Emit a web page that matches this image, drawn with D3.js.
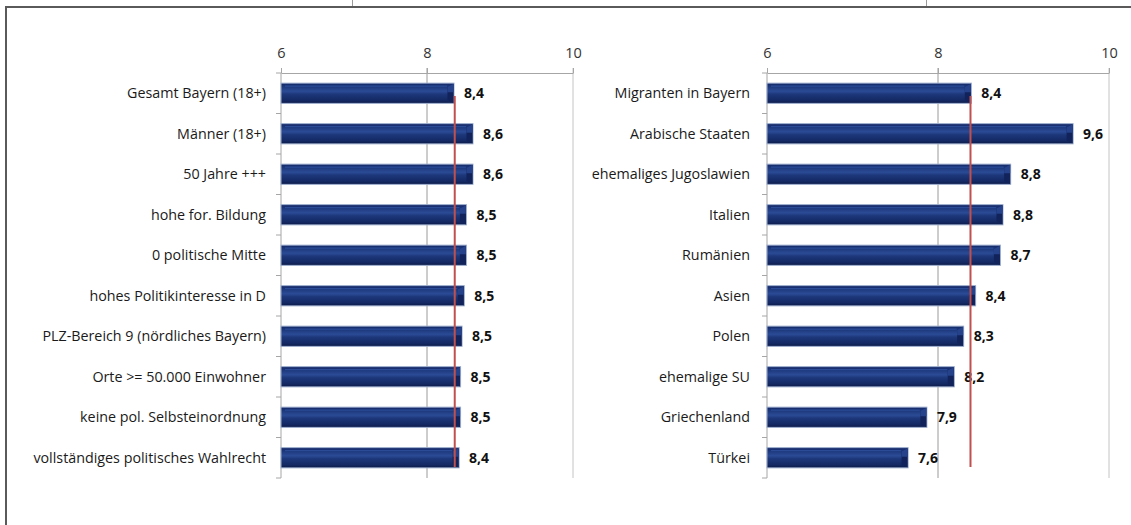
<!DOCTYPE html>
<html>
<head>
<meta charset="utf-8">
<script src="https://cdn.jsdelivr.net/npm/d3@7"></script>
<style>
  body { margin: 0; background: #fff; }
  svg { display: block; font-family: "Open Sans", sans-serif; }
</style>
</head>
<body>
<div id="chart"></div>
<script>
// left panel
let leftCategories = ["Gesamt Bayern (18+)", "Männer (18+)", "50 Jahre +++", "hohe for. Bildung",
    "0 politische Mitte", "hohes Politikinteresse in D", "PLZ-Bereich 9 (nördliches Bayern)",
    "Orte >= 50.000 Einwohner", "keine pol. Selbsteinordnung", "vollständiges politisches Wahlrecht"]
let leftValues = [8.37, 8.63, 8.63, 8.54, 8.54, 8.51, 8.48, 8.46, 8.46, 8.44]
let leftLabels = ["8,4", "8,6", "8,6", "8,5", "8,5", "8,5", "8,5", "8,5", "8,5", "8,4"]

// right panel
let rightCategories = ["Migranten in Bayern", "Arabische Staaten", "ehemaliges Jugoslawien", "Italien",
    "Rumänien", "Asien", "Polen", "ehemalige SU", "Griechenland", "Türkei"]
let rightValues = [8.39, 9.58, 8.85, 8.76, 8.73, 8.44, 8.30, 8.19, 7.87, 7.65]
let rightLabels = ["8,4", "9,6", "8,8", "8,8", "8,7", "8,4", "8,3", "8,2", "7,9", "7,6"]

let axisDomain = [6, 10]
let tickValues = [6, 8, 10]
let referenceValue = 8.38

let width = 1131
let height = 525

let svg = d3.select('#chart')
    .append('svg')
        .attr('width', width)
        .attr('height', height)

// outer frame (runs past the right and bottom edge)
svg.append('rect')
    .attr('x', 6).attr('y', 7)
    .attr('width', 1300).attr('height', 700)
    .attr('fill', 'none')
    .attr('stroke', '#5a5a5a')
    .attr('stroke-width', 2)
svg.append('line').attr('x1', 352.5).attr('x2', 352.5).attr('y1', 0).attr('y2', 6).attr('stroke', '#9a9a9a')
svg.append('line').attr('x1', 926.5).attr('x2', 926.5).attr('y1', 0).attr('y2', 6).attr('stroke', '#9a9a9a')

// bar gradient
let defs = svg.append('defs')
let grad = defs.append('linearGradient')
    .attr('id', 'barGrad')
    .attr('x1', 0).attr('y1', 0).attr('x2', 0).attr('y2', 1)
grad.append('stop').attr('offset', '0%').attr('stop-color', '#132766')
grad.append('stop').attr('offset', '15%').attr('stop-color', '#1c3679')
grad.append('stop').attr('offset', '40%').attr('stop-color', '#2b4b96')
grad.append('stop').attr('offset', '55%').attr('stop-color', '#1d377a')
grad.append('stop').attr('offset', '85%').attr('stop-color', '#142964')
grad.append('stop').attr('offset', '100%').attr('stop-color', '#0c1a48')

function drawPanel(categories, values, labels, x0, x1, labelGap){

    let x = d3.scaleLinear()
        .domain(axisDomain)
        .range([x0, x1])

    let y = d3.scaleBand()
        .domain(categories)
        .range([73, 478])
        .paddingInner(0.5)
        .paddingOuter(0.25)

    let step = y.step()

    let g = svg.append('g')

    // gridlines
    g.append('line')
        .attr('x1', x(8)).attr('x2', x(8))
        .attr('y1', 68).attr('y2', 478)
        .attr('stroke', '#9a9a9a')
    g.append('line')
        .attr('x1', x(10)).attr('x2', x(10))
        .attr('y1', 68).attr('y2', 478)
        .attr('stroke', '#c4c4c4')

    // top axis
    let topAxis = g.append('g')
        .attr('transform', 'translate(0,73)')
        .call(d3.axisTop(x).tickValues(tickValues).tickSize(5).tickSizeOuter(0).tickPadding(10).tickFormat(d3.format('d')))
    topAxis.select('.domain').attr('stroke', '#a6a6a6')
    topAxis.selectAll('.tick line').attr('stroke', '#a6a6a6')
    topAxis.selectAll('.tick text')
        .attr('fill', '#333')
        .attr('font-size', 14.5)
        .attr('font-family', '"Open Sans", sans-serif')

    // left category axis
    g.append('line')
        .attr('x1', x0).attr('x2', x0)
        .attr('y1', 73).attr('y2', 478)
        .attr('stroke', '#a6a6a6')
    g.selectAll('.cat-tick')
        .data(d3.range(categories.length + 1))
        .enter().append('line')
        .attr('x1', x0 - 5).attr('x2', x0)
        .attr('y1', d => 73 + d * step)
        .attr('y2', d => 73 + d * step)
        .attr('stroke', '#a6a6a6')

    // category labels
    g.selectAll('.cat-label')
        .data(categories)
        .enter().append('text')
        .attr('x', x0 - labelGap)
        .attr('y', d => y(d) + y.bandwidth() / 2 + 5)
        .attr('text-anchor', 'end')
        .attr('font-size', 14.3)
        .attr('fill', '#1a1a1a')
        .text(d => d)

    // bars
    let bars = g.selectAll('.bar')
        .data(categories)
        .enter().append('g')

    bars.append('rect')
        .attr('x', x(6))
        .attr('y', d => y(d))
        .attr('width', (d, i) => x(values[i]) - x(6))
        .attr('height', y.bandwidth())
        .attr('fill', 'url(#barGrad)')
        .attr('stroke', '#9fb0d0')
        .attr('stroke-width', 1)

    // bevel at the right end
    bars.append('path')
        .attr('d', (d, i) => {
            let xe = x(values[i]) - 0.5, yt = y(d) + 0.5, h = y.bandwidth() - 1
            return `M${xe - 6},${yt + 3} L${xe},${yt} L${xe},${yt + h} L${xe - 6},${yt + h - 3} Z`
        })
        .attr('fill', '#11235a')
    bars.append('path')
        .attr('d', (d, i) => {
            let xe = x(values[i]) - 0.5, yt = y(d) + 0.5, h = y.bandwidth() - 1
            return `M${xe - 6},${yt + 3} L${xe},${yt} L${xe},${yt + h * 0.45} L${xe - 6},${yt + h * 0.45} Z`
        })
        .attr('fill', '#25428a')
    // top highlight
    bars.append('line')
        .attr('x1', x(6) + 4)
        .attr('x2', (d, i) => x(values[i]) - 7)
        .attr('y1', d => y(d) + 3)
        .attr('y2', d => y(d) + 3)
        .attr('stroke', '#2e4f9c')
        .attr('stroke-width', 1)

    // value labels
    g.selectAll('.val-label')
        .data(categories)
        .enter().append('text')
        .attr('x', (d, i) => x(values[i]) + 10)
        .attr('y', d => y(d) + y.bandwidth() / 2 + 5)
        .attr('font-size', 14)
        .attr('font-weight', 'bold')
        .attr('fill', '#111')
        .text((d, i) => labels[i])

    // red reference line
    g.append('line')
        .attr('x1', x(referenceValue)).attr('x2', x(referenceValue))
        .attr('y1', 96).attr('y2', 467)
        .attr('stroke', '#c0504d')
        .attr('stroke-width', 2)
}

drawPanel(leftCategories, leftValues, leftLabels, 281, 573, 15)
drawPanel(rightCategories, rightValues, rightLabels, 767, 1109, 17)
</script>
</body>
</html>
